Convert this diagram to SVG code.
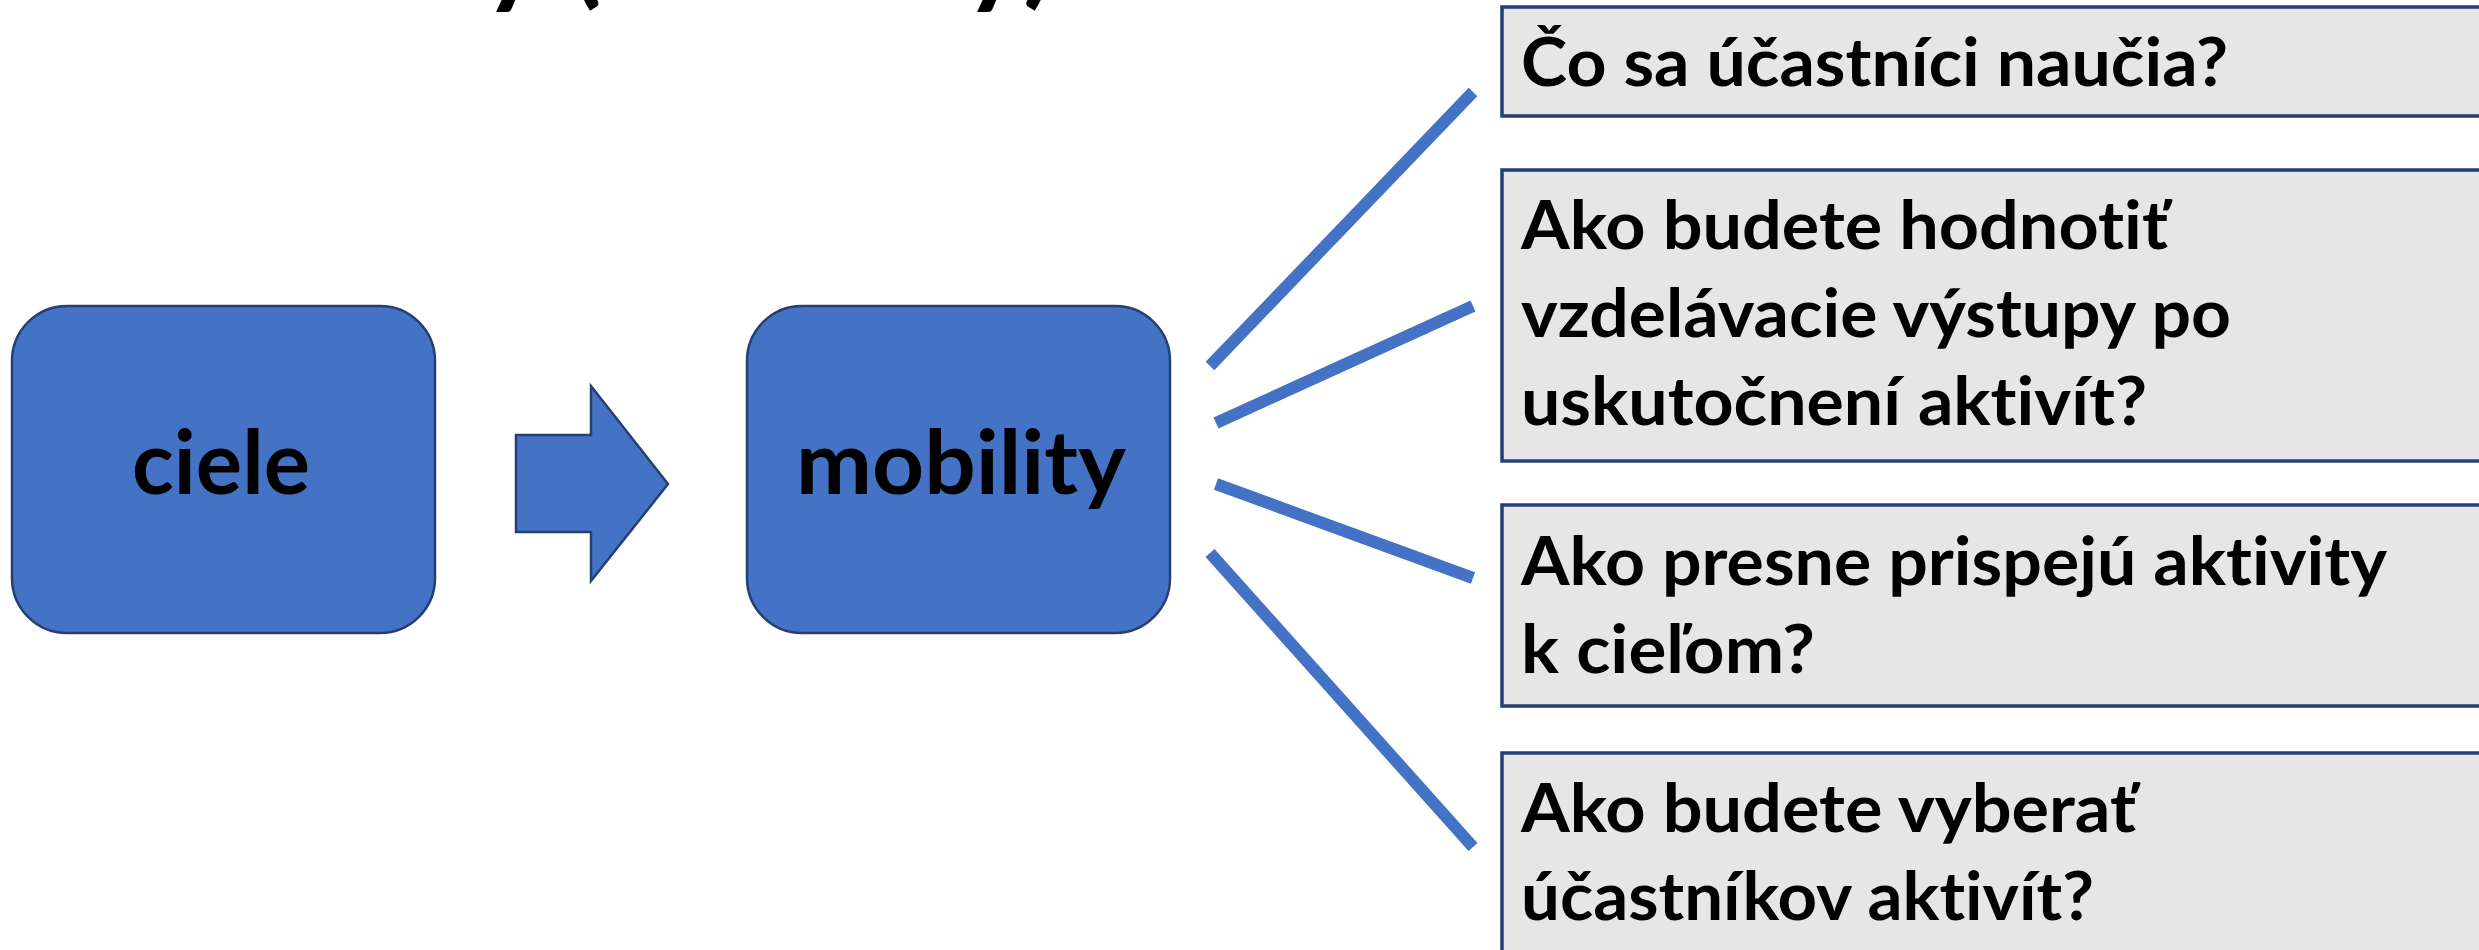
<svg xmlns="http://www.w3.org/2000/svg" width="2479" height="950" viewBox="0 0 2479 950">
  <style>
    text { font-variant-ligatures: none; font-feature-settings: "liga" 0, "clig" 0, "dlig" 0; }
    .blue { fill: #4472C4; stroke: #253F72; stroke-width: 2.5; }
    .q { fill: #E7E6E6; stroke: #253F72; stroke-width: 3.5; }
    .conn { stroke: #4472C4; stroke-width: 12; fill: none; stroke-linecap: butt; }
    .big { font-family: Lato, "Open Sans", "Liberation Sans", sans-serif; font-weight: bold; font-size: 88px; fill: #000; }
    .txt { font-family: Lato, "Open Sans", "Liberation Sans", sans-serif; font-weight: bold; font-size: 66px; fill: #000; }
    .title { font-family: Lato, "Open Sans", "Liberation Sans", sans-serif; font-weight: bold; font-size: 118px; fill: #000; }
  </style>
  <rect x="0" y="0" width="2479" height="950" fill="#FFFFFF"/>

  <text class="title" x="132" y="-8" textLength="923" lengthAdjust="spacingAndGlyphs">Aktivity (mobility)</text>

  <g id="node-ciele">
    <rect class="blue" x="12" y="306" width="423" height="327" rx="55" ry="55"/>
    <text class="big" x="132" y="494" textLength="178" lengthAdjust="spacingAndGlyphs">ciele</text>
  </g>

  <g id="node-arrow">
    <polygon class="blue" points="516,435 591,435 591,386 668,484 591,581 591,532 516,532"/>
  </g>

  <g id="node-mobility">
    <rect class="blue" x="747" y="306" width="423" height="327" rx="55" ry="55"/>
    <text class="big" x="796" y="494" textLength="330" lengthAdjust="spacingAndGlyphs">mobility</text>
  </g>

  <g id="connectors">
    <line class="conn" x1="1210" y1="366" x2="1473" y2="92"/>
    <line class="conn" x1="1216" y1="423" x2="1473" y2="306"/>
    <line class="conn" x1="1216" y1="484" x2="1473" y2="578"/>
    <line class="conn" x1="1210" y1="553" x2="1473" y2="847"/>
  </g>

  <g id="node-q1">
    <rect class="q" x="1502" y="7" width="1100" height="109"/>
    <text class="txt" x="1521" y="86" textLength="707" lengthAdjust="spacingAndGlyphs">Čo sa účastníci naučia?</text>
  </g>

  <g id="node-q2">
    <rect class="q" x="1502" y="170" width="1100" height="291"/>
    <text class="txt" x="1521" y="249" textLength="647" lengthAdjust="spacingAndGlyphs">Ako budete hodnotiť</text>
    <text class="txt" x="1521" y="337" textLength="710" lengthAdjust="spacingAndGlyphs">vzdelávacie výstupy po</text>
    <text class="txt" x="1521" y="425" textLength="626" lengthAdjust="spacingAndGlyphs">uskutočnení aktivít?</text>
  </g>

  <g id="node-q3">
    <rect class="q" x="1502" y="505" width="1100" height="201"/>
    <text class="txt" x="1521" y="585" textLength="866" lengthAdjust="spacingAndGlyphs">Ako presne prispejú aktivity</text>
    <text class="txt" x="1521" y="673" textLength="294" lengthAdjust="spacingAndGlyphs">k cieľom?</text>
  </g>

  <g id="node-q4">
    <rect class="q" x="1502" y="753" width="1100" height="300"/>
    <text class="txt" x="1521" y="832" textLength="615" lengthAdjust="spacingAndGlyphs">Ako budete vyberať</text>
    <text class="txt" x="1521" y="920" textLength="573" lengthAdjust="spacingAndGlyphs">účastníkov aktivít?</text>
  </g>
</svg>
